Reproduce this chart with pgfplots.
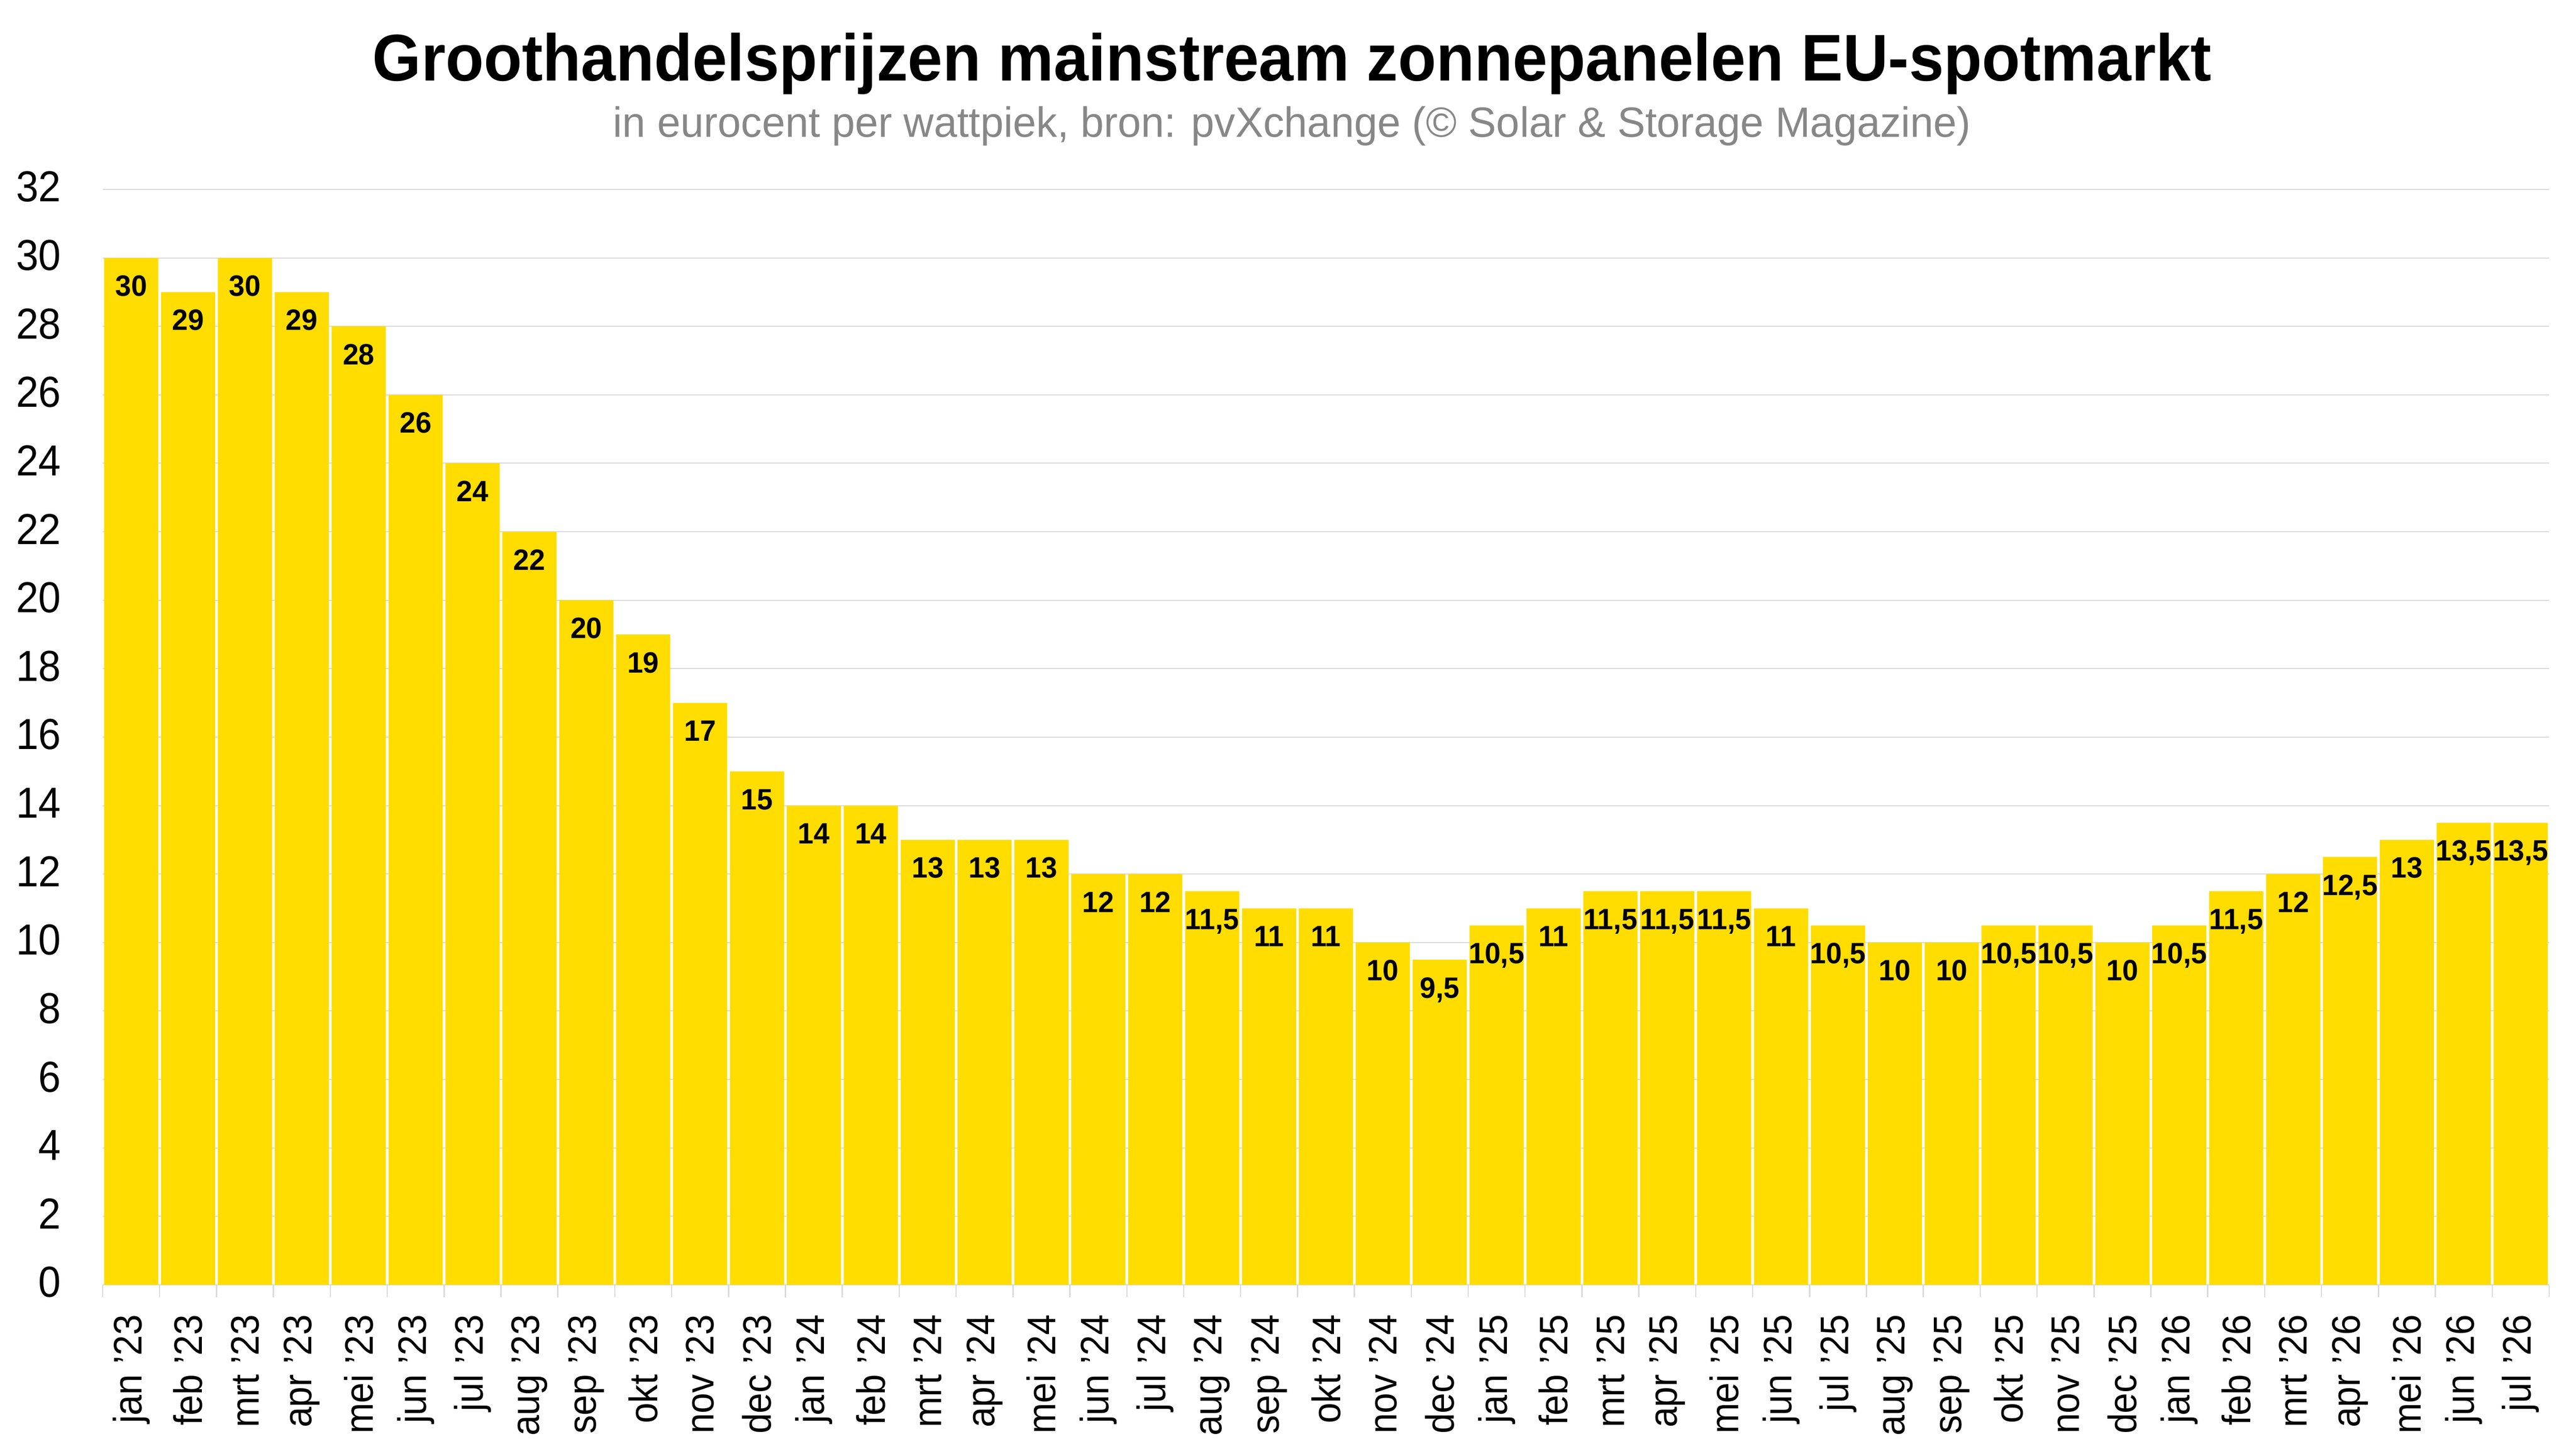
\documentclass[border=0pt]{standalone}
\usepackage{pgfplots}
\pgfplotsset{compat=1.18}
\usepackage{fontspec}
\setmainfont{Liberation Sans}[FakeStretch=0.93]
\newfontfamily\valfont{Liberation Sans}[FakeStretch=0.97]
\definecolor{barcol}{HTML}{FFDD00}
\definecolor{gridgray}{HTML}{DADADA}
\definecolor{subgray}{HTML}{878787}
\begin{document}
\begin{tikzpicture}
\useasboundingbox (0,0) rectangle (499pt,280.7pt);
\node[anchor=base,inner sep=0pt] at (250.3pt,265.0pt)
  {\resizebox{356.2pt}{\height}{\fontsize{12.8}{15}\selectfont\bfseries Groothandelsprijzen mainstream zonnepanelen EU-spotmarkt}};
\node[anchor=base,inner sep=0pt,text=subgray] at (250.3pt,254.1pt)
  {\resizebox{263.0pt}{\height}{\fontsize{8.2}{10}\selectfont in eurocent per wattpiek, bron: pvXchange (© Solar \& Storage Magazine)}};
\begin{axis}[
  at={(19.9pt,31.8pt)}, anchor=south west,
  scale only axis, width=473.9pt, height=212.2pt,
  xmin=-0.5, xmax=42.5, ymin=0, ymax=32,
  ybar, bar width=10.5pt,
  axis line style={draw=none},
  ytick={0,2,...,32},
  xtick={0,...,42},
  xticklabels={jan '23,feb '23,mrt '23,apr '23,mei '23,jun '23,jul '23,aug '23,sep '23,okt '23,nov '23,dec '23,
    jan '24,feb '24,mrt '24,apr '24,mei '24,jun '24,jul '24,aug '24,sep '24,okt '24,nov '24,dec '24,
    jan '25,feb '25,mrt '25,apr '25,mei '25,jun '25,jul '25,aug '25,sep '25,okt '25,nov '25,dec '25,
    jan '26,feb '26,mrt '26,apr '26,mei '26,jun '26,jul '26},
  minor xtick={-0.5,0.5,...,42.5},
  xtick pos=bottom, ytick pos=left,
  tick align=outside,
  major tick length=0pt,
  minor tick length=2.4pt,
  minor tick style={gridgray, line width=0.25pt},
  ymajorgrids,
  grid style={gridgray, line width=0.2pt},
  /pgf/number format/assume math mode=true,
  yticklabel style={font=\fontsize{8.4}{10}\selectfont, anchor=east, inner sep=0pt, yshift=0.5pt},
  yticklabel shift=7.9pt,
  xticklabel style={font=\fontsize{7.7}{9}\selectfont, rotate=90, anchor=east, inner sep=0pt},
  xticklabel shift=5.6pt,
  nodes near coords={\pgfmathprintnumber[assume math mode=true,use comma]{\pgfplotspointmeta}},
  every node near coord/.append style={font=\fontsize{5.7}{6}\valfont\bfseries, anchor=base, yshift=-7.4pt, text=black, inner sep=0pt},
]
\addplot[fill=barcol, draw=none] coordinates {
 (0,30) (1,29) (2,30) (3,29) (4,28) (5,26) (6,24) (7,22) (8,20) (9,19) (10,17) (11,15)
 (12,14) (13,14) (14,13) (15,13) (16,13) (17,12) (18,12) (19,11.5) (20,11) (21,11) (22,10) (23,9.5)
 (24,10.5) (25,11) (26,11.5) (27,11.5) (28,11.5) (29,11) (30,10.5) (31,10) (32,10) (33,10.5) (34,10.5) (35,10)
 (36,10.5) (37,11.5) (38,12) (39,12.5) (40,13) (41,13.5) (42,13.5)
};
\end{axis}
\end{tikzpicture}
\end{document}
